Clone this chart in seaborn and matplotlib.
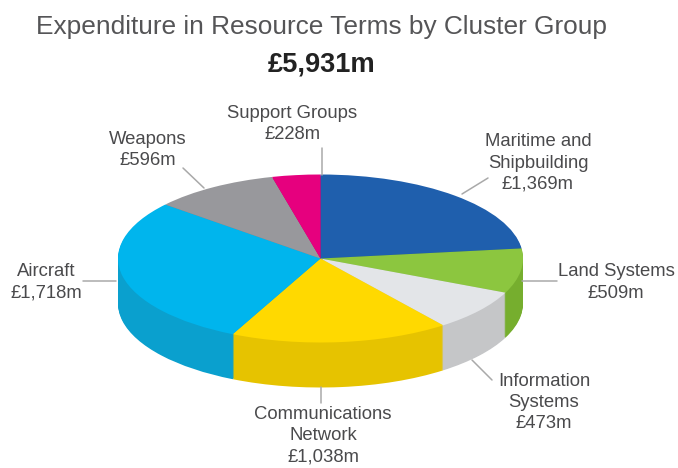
import matplotlib
matplotlib.use("Agg")
import matplotlib.pyplot as plt
from matplotlib.lines import Line2D
import seaborn as sns

W, H = 678, 468

clusters = ["Maritime and\nShipbuilding", "Land Systems", "Information\nSystems",
            "Communications\nNetwork", "Aircraft", "Weapons", "Support Groups"]
spend_m = [1369, 509, 473, 1038, 1718, 596, 228]
total_label = "£5,931m"
title_text = "Expenditure in Resource Terms by Cluster Group"

top_colors = ["#1F5FAD", "#8CC63F", "#E3E5E8", "#FFD900", "#00B5ED", "#98989C", "#E6007E"]
side_colors = ["#1A4F90", "#76AE2E", "#C5C6C8", "#E6C300", "#0AA0CE", "#808084", "#C00069"]

sns.set_theme(style="white")
plt.rcParams["font.family"] = ["Liberation Sans", "DejaVu Sans"]
top_palette = sns.color_palette(top_colors)
side_palette = sns.color_palette(side_colors)

fig, ax = plt.subplots(figsize=(W / 100, H / 100), dpi=100)
ax.set_position([0, 0, 1, 1])

# Disc geometry in pixels: centre, radii and extruded depth
cx, cy, rx, ry, depth = 320.5, 258.5, 202.5, 84.0, 45

# Extrusion: a stack of shifted pies in the darker shades, then the top face
for step in range(depth, 0, -1):
    ax.pie(spend_m, colors=side_palette, startangle=90, counterclock=False,
           center=(0, -step / ry), radius=1, wedgeprops={"linewidth": 0})
ax.pie(spend_m, colors=top_palette, startangle=90, counterclock=False,
       center=(0, 0), radius=1, wedgeprops={"linewidth": 0})

# Squash the circle into an ellipse by giving each axis its own scale
ax.set_aspect("auto")
ax.set_xlim(-cx / rx, (W - cx) / rx)
ax.set_ylim(-(H - cy) / ry, cy / ry)
ax.axis("off")


def fx(px):
    return px / W


def fy(py):
    return 1 - py / H


LINE_GREY = "#A9A9A9"
TEXT_GREY = "#4A4A4C"

# Leader lines from each label to its slice
leaders = [
    ((488, 178), (462, 194)),
    ((522, 280.5), (557, 280.5)),
    ((472, 360), (492, 380)),
    ((321, 387), (321, 403)),
    ((83, 280.5), (116, 280.5)),
    ((183, 168), (204, 188)),
    ((322, 148), (322, 175)),
]
for (x0, y0), (x1, y1) in leaders:
    fig.add_artist(Line2D([fx(x0), fx(x1)], [fy(y0), fy(y1)],
                          color=LINE_GREY, lw=1.1))

# Slice labels: name lines above the amount
label_anchor = [(538, 163), (616, 282.5), (544, 402.5), (323, 435.5),
                (46, 282.5), (148, 150), (292.5, 124)]
for name, value, (x, y) in zip(clusters, spend_m, label_anchor):
    fig.text(fx(x), fy(y), f"{name}\n£{value:,}m", ha="center", va="center",
             fontsize=13.3, color=TEXT_GREY, linespacing=1.34)

fig.text(fx(321.5), fy(27), title_text, ha="center", va="center",
         fontsize=18.9, color="#555557")
fig.text(fx(321.5), fy(64), total_label, ha="center", va="center",
         fontsize=19.6, fontweight="bold", color="#222222")

fig.savefig("out.png", dpi=100, facecolor="white")
